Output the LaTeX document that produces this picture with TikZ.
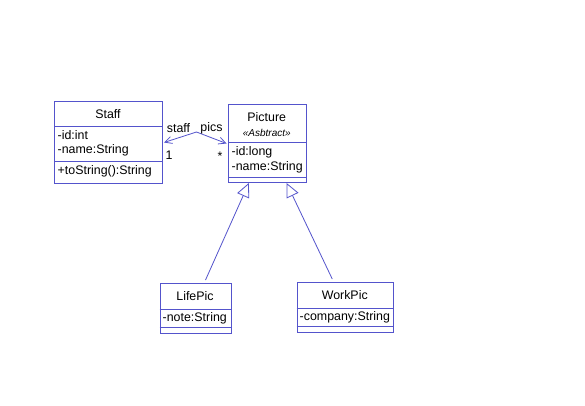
\documentclass[tikz,border=0pt]{standalone}
\usepackage{fontspec}
\setmainfont{Liberation Sans}
\usetikzlibrary{arrows.meta}
\definecolor{umlblue}{RGB}{84,84,204}
\tikzset{
  x=1pt, y=-1pt,
  cls/.style={draw=umlblue, line width=1pt, rectangle, inner sep=0pt, anchor=north west},
  divline/.style={draw=umlblue, line width=1pt},
  txt/.style={inner sep=0pt, text=black, font=\fontsize{12.4}{14}\selectfont},
  attr/.style={txt, anchor=west},
  stereo/.style={inner sep=0pt, text=black, font=\fontsize{10}{12}\selectfont\itshape},
  assoc/.style={draw=umlblue, line width=0.8pt},
  gen/.style={draw=umlblue, line width=0.8pt, -{Triangle[open, length=14pt, width=13pt]}},
}
\begin{document}
\begin{tikzpicture}
\useasboundingbox (0,0) rectangle (585,406);
\fill[white] (0,0) rectangle (585,406);

% Staff
\node[cls, minimum width=108pt, minimum height=82pt] (staff) at (54,101) {};
\draw[divline] (54,127) -- (162,127);
\draw[divline] (54,161) -- (162,161);
\node[txt] (stafft) at (108,114.5) {Staff};
\node[attr] (staffa1) at (57.5,135.5) {-id:int};
\node[attr] (staffa2) at (57.5,150.5) {-name:String};
\node[attr] (staffm1) at (57.5,171.5) {+toString():String};

% Picture
\node[cls, minimum width=77.5pt, minimum height=78pt] (picture) at (228,104) {};
\draw[divline] (228,143) -- (305.5,143);
\draw[divline] (228,177) -- (305.5,177);
\node[txt] (picturet) at (266.75,117) {Picture};
\node[stereo] (pictures) at (266.75,133) {«Asbtract»};
\node[attr] (picturea1) at (231.5,152) {-id:long};
\node[attr] (picturea2) at (231.5,167) {-name:String};

% LifePic
\node[cls, minimum width=71pt, minimum height=50pt] (lifepic) at (159.5,283) {};
\draw[divline] (159.5,309) -- (230.5,309);
\draw[divline] (159.5,327) -- (230.5,327);
\node[txt] (lifepict) at (195,296) {LifePic};
\node[attr] (lifepica1) at (162.5,318) {-note:String};

% WorkPic
\node[cls, minimum width=96.5pt, minimum height=50pt] (workpic) at (296.5,282) {};
\draw[divline] (296.5,308) -- (393,308);
\draw[divline] (296.5,326) -- (393,326);
\node[txt] (workpict) at (344.75,295) {WorkPic};
\node[attr] (workpica1) at (299.5,317) {-company:String};

% Association
\coordinate (peak) at (196.5,132);
\draw[assoc, {Straight Barb[length=7pt,width=7pt]}-{Straight Barb[length=7pt,width=7pt]}]
  ([xshift=1pt]staff.east) -- (peak) -- ([xshift=-1.5pt]picture.west);
\node[txt] (lstaff) at (178.5,128) {staff};
\node[txt] (lpics) at (211.5,128) {pics};
\node[txt] (lone) at (169,155) {1};
\node[txt] (lstar) at (220,156) {*};

% Generalizations
\draw[gen] ([xshift=10pt,yshift=3pt]lifepic.north) -- ([xshift=-18.4pt]picture.south);
\draw[gen] ([xshift=-13pt,yshift=3pt]workpic.north) -- ([xshift=19.3pt]picture.south);
\end{tikzpicture}
\end{document}
